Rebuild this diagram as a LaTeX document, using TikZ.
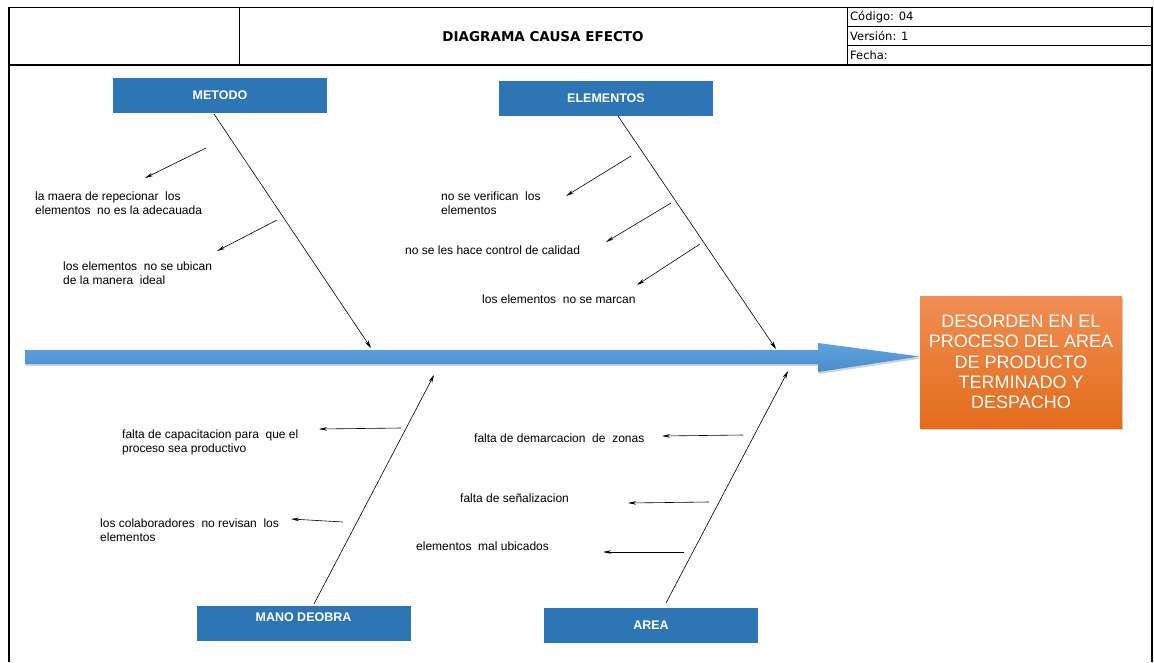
\documentclass[tikz,border=0pt]{standalone}
\usepackage{fontspec}
\setmainfont{Liberation Sans}
\newfontfamily\hdrfont{DejaVu Sans}
\usetikzlibrary{arrows.meta,shadows}

\definecolor{catblue}{RGB}{46,117,182}
\definecolor{spinetop}{RGB}{98,163,222}
\definecolor{spinebot}{RGB}{72,141,207}
\definecolor{efftop}{RGB}{240,142,84}
\definecolor{effbot}{RGB}{228,108,26}

\begin{document}
\begin{tikzpicture}[x=1pt,y=-1pt,
    cat/.style = {shape=rectangle, fill=catblue, text=white, inner sep=0pt,
                  minimum width=214pt, minimum height=35pt,
                  font=\fontsize{12.5}{14}\selectfont\bfseries},
    cause/.style = {anchor=west, align=left, inner sep=0pt,
                    font=\fontsize{12}{14}\selectfont},
    cell/.style = {anchor=west, inner sep=0pt, font=\hdrfont\fontsize{11.5}{13}\selectfont},
    bone/.style = {-{Stealth[length=8pt,width=4pt]}, line width=0.6pt},
    sub/.style = {-{Stealth[length=8pt,width=3.5pt]}, line width=0.6pt}]
  \useasboundingbox (0,0) rectangle (1154,662);

  % encabezado
  \draw[line width=1.6pt] (9,662) -- (9,7.5) -- (1152,7.5) -- (1152,662);
  \draw[line width=1.2pt] (9,65) -- (1152,65);
  \draw[line width=0.8pt] (239,7.5) -- (239,65);
  \draw[line width=0.8pt] (847,7.5) -- (847,65);
  \draw[line width=0.8pt] (847,26) -- (1152,26);
  \draw[line width=0.8pt] (847,45.5) -- (1152,45.5);
  \node (titulo) [font=\hdrfont\bfseries\fontsize{13.5}{15}\selectfont] at (543,37) {DIAGRAMA CAUSA EFECTO};
  \node (codigo) [cell] at (850,17) {Código: 04};
  \node (version) [cell] at (850,36) {Versión: 1};
  \node (fecha) [cell] at (850,55.5) {Fecha:};

  % espina central y efecto
  \path[top color=spinetop, bottom color=spinebot,
        drop shadow={shadow xshift=1pt, shadow yshift=-2pt, opacity=0.35}]
    (25,350) -- (818,350) -- (818,343) -- (920,356.5) -- (818,372) -- (818,364) -- (25,364) -- cycle;
  \node (efecto) [shape=rectangle, top color=efftop, bottom color=effbot, text=white,
                  minimum width=202pt, minimum height=132pt, align=center,
                  drop shadow={shadow xshift=1pt, shadow yshift=-2pt, opacity=0.35},
                  font=\fontsize{18}{20.3}\selectfont] at (1021,362)
    {DESORDEN EN EL\\PROCESO DEL AREA\\DE PRODUCTO\\TERMINADO Y\\DESPACHO};

  % categorias
  \node (metodo) [cat] at (220,95.5) {METODO};
  \node (elementos) [cat] at (606,98) {ELEMENTOS};
  \node (mano) [cat, text depth=13pt] at (303.5,623.5) {MANO DEOBRA};
  \node (area) [cat] at (651,625) {AREA};

  \coordinate (metodoTop) at (214,114);
  \coordinate (metodoEnd) at (371,348);
  \coordinate (elemTop) at (618,116);
  \coordinate (elemEnd) at (776,349);
  \coordinate (manoBot) at (314,604);
  \coordinate (manoEnd) at (434,375);
  \coordinate (areaBot) at (666,603);
  \coordinate (areaEnd) at (788,371);

  \draw[bone] (metodoTop) -- (metodoEnd);
  \draw[bone] (elemTop) -- (elemEnd);
  \draw[bone] (manoBot) -- (manoEnd);
  \draw[bone] (areaBot) -- (areaEnd);

  % causas
  \node (m1) [cause] at (35,203.5) {la maera de repecionar\ \ los\\elementos\ \ no es la adecauada};
  \node (m2) [cause] at (63,273.5) {los elementos\ \ no se ubican\\de la manera\ \ ideal};
  \node (e1) [cause] at (441,203.5) {no se verifican\ \ los\\elementos};
  \node (e2) [cause] at (405,250) {no se les hace control de calidad};
  \node (e3) [cause] at (482,299) {los elementos\ \ no se marcan};
  \node (o1) [cause] at (122,442) {falta de capacitacion para\ \ que el\\proceso sea productivo};
  \node (o2) [cause] at (100,530) {los colaboradores\ \ no revisan\ \ los\\elementos};
  \node (a1) [cause] at (474,438) {falta de demarcacion\ \ de\ \ zonas};
  \node (a2) [cause] at (460,498) {falta de señalizacion};
  \node (a3) [cause] at (416,546) {elementos\ \ mal ubicados};

  \coordinate (m1s) at (206,148);  \coordinate (m1e) at (145,178);
  \coordinate (m2s) at (277,220);  \coordinate (m2e) at (217,251);
  \coordinate (e1s) at (631,156);  \coordinate (e1e) at (566,196);
  \coordinate (e2s) at (671,203);  \coordinate (e2e) at (606,242);
  \coordinate (e3s) at (700,244);  \coordinate (e3e) at (637,285);
  \coordinate (o1s) at (401,428);  \coordinate (o1e) at (319,429);
  \coordinate (o2s) at (343,522);  \coordinate (o2e) at (291,519);
  \coordinate (a1s) at (743,435);  \coordinate (a1e) at (662,436);
  \coordinate (a2s) at (709,502);  \coordinate (a2e) at (628,503);
  \coordinate (a3s) at (684,552);  \coordinate (a3e) at (603,552);

  \foreach \c in {m1,m2,e1,e2,e3,o1,o2,a1,a2,a3}
    \draw[sub] (\c s) -- (\c e);
\end{tikzpicture}
\end{document}
